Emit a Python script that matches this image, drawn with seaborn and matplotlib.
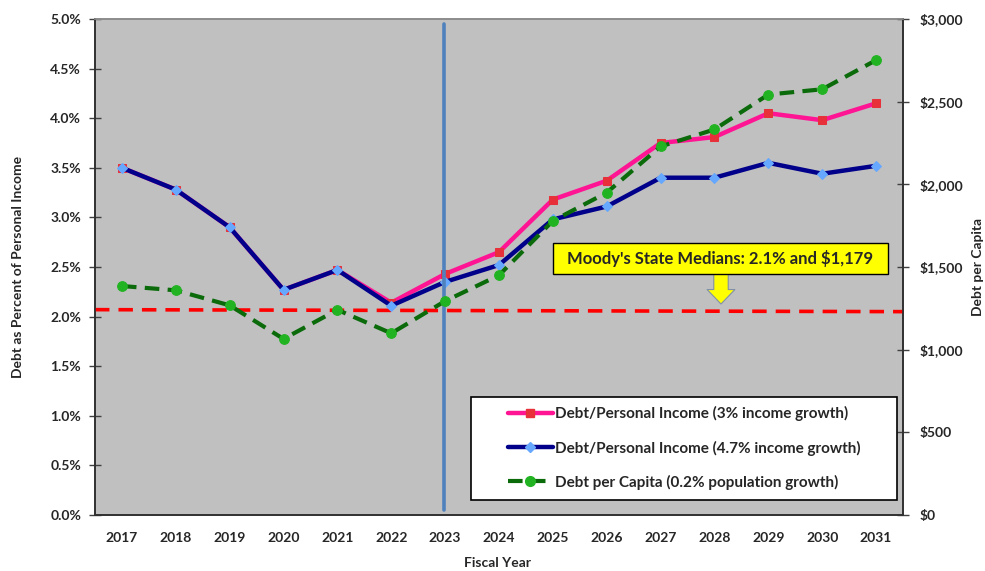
import numpy as np
import pandas as pd
import matplotlib
matplotlib.use('Agg')
import matplotlib.pyplot as plt
import matplotlib.font_manager as fm
from matplotlib.lines import Line2D
from matplotlib.patches import Rectangle
from matplotlib.ticker import FuncFormatter, MultipleLocator, FixedLocator
import seaborn as sns

# 数据
years = [str(y) for y in range(2017, 2032)]
pct_3_growth = [3.50, 3.28, 2.90, 2.27, 2.47, 2.14, 2.43, 2.65, 3.18, 3.37,
                3.75, 3.81, 4.05, 3.98, 4.15]
pct_47_growth = [3.50, 3.28, 2.90, 2.27, 2.47, 2.11, 2.35, 2.52, 2.98, 3.11,
                 3.40, 3.40, 3.55, 3.44, 3.52]
per_capita = [1385, 1359, 1268, 1065, 1241, 1099, 1294, 1450, 1779, 1950,
              2229, 2332, 2543, 2575, 2751]
median_pct = [2.07, 2.05]      # 左右两端
split_year = '2023'
note_text = "Moody's State Medians: 2.1% and $1,179"
legend_labels = ['Debt/Personal Income (3% income growth)',
                 'Debt/Personal Income (4.7% income growth)',
                 'Debt per Capita (0.2% population growth)']

df = pd.DataFrame({'year': years, 'x': np.arange(len(years)),
                   'p3': pct_3_growth, 'p47': pct_47_growth, 'cap': per_capita})


def _pick_bold_family():
    """找一个有粗体字重的字体"""
    for name in ['Lato', 'Open Sans', 'Noto Sans', 'Liberation Sans', 'DejaVu Sans']:
        for f in fm.fontManager.ttflist:
            w = f.weight if isinstance(f.weight, int) else 400
            if f.name == name and (w >= 700 or 'Bold' in str(f.fname)):
                return name
    return 'DejaVu Sans'


sns.set_style('white')
plt.rcParams['font.family'] = [_pick_bold_family(), 'DejaVu Sans']
plt.rcParams['font.weight'] = 'bold'
plt.rcParams['axes.labelweight'] = 'bold'

PINK, RED_SQ = '#FF1493', '#E8303A'
NAVY, LBLUE = '#00008B', '#66A8FF'
DGREEN, LGREEN = '#0B6B0B', '#22B322'

W, H = 985, 571
L, R, T, B = 95, 903, 19, 515        # 绘图区像素边界


def ax_x(px):
    return (px - L) / (R - L)


def ax_y(py):
    return (B - py) / (B - T)


fig = plt.figure(figsize=(W / 100, H / 100), dpi=100)
ax = fig.add_axes([L / W, 1 - B / H, (R - L) / W, (B - T) / H])
ax.set_facecolor('#C0C0C0')

sns.lineplot(data=df, x='x', y='p3', ax=ax, color=PINK, lw=3.2,
             marker='s', markersize=6, markerfacecolor=RED_SQ,
             markeredgecolor=RED_SQ, zorder=4)
sns.lineplot(data=df, x='x', y='p47', ax=ax, color=NAVY, lw=3.2,
             marker='D', markersize=5, markerfacecolor=LBLUE,
             markeredgecolor=LBLUE, zorder=5)

# 中位数虚线
ax.plot([-0.5, len(years) - 0.5], median_pct, color='#FF0000', lw=2.6,
        dashes=(4, 2.5), zorder=3)
# 分隔线
ax.axvline(years.index(split_year) - 0.03, ymin=0.01, ymax=0.99,
           color='#4F81BD', lw=2.6, zorder=6)

ax.set_xlim(-0.5, len(years) - 0.5)
ax.set_ylim(0, 5)
ax.yaxis.set_major_locator(MultipleLocator(0.5))
ax.yaxis.set_major_formatter(FuncFormatter(lambda v, p: f'{v:.1f}%'))
ax.set_xticks(df['x'])
ax.set_xticklabels(years)
ax.xaxis.set_minor_locator(FixedLocator(np.arange(-0.5, len(years), 1)))
ax.tick_params(axis='x', which='major', length=0, pad=12, labelsize=10)
ax.tick_params(axis='x', which='minor', direction='inout', length=8,
               width=1, color='#202020')
ax.tick_params(axis='y', direction='inout', length=8, width=1,
               color='#404040', labelsize=10, pad=6)
ax.set_xlabel('Fiscal Year', fontsize=10, va='center')
ax.set_ylabel('Debt as Percent of Personal Income', fontsize=10,
              va='center', ha='center')
ax.xaxis.set_label_coords(ax_x(498), ax_y(563))
ax.yaxis.set_label_coords(ax_x(18), 0.5)

ax2 = ax.twinx()
sns.lineplot(data=df, x='x', y='cap', ax=ax2, color=DGREEN, lw=3,
             linestyle=(0, (3.5, 2)), marker='o', markersize=7,
             markerfacecolor=LGREEN, markeredgecolor=LGREEN, zorder=5)
ax2.set_ylim(0, 3000)
ax2.yaxis.set_major_locator(MultipleLocator(500))
ax2.yaxis.set_major_formatter(FuncFormatter(lambda v, p: f'${v:,.0f}'))
ax2.tick_params(axis='y', direction='inout', length=8, width=1,
                color='#404040', labelsize=10, pad=8)
ax2.set_ylabel('Debt per Capita', fontsize=10, va='center', ha='center')
ax2.yaxis.set_label_coords(ax_x(978), 0.5)
ax2.set_xlim(-0.5, len(years) - 0.5)

for a in (ax, ax2):
    for side in ('left', 'right', 'bottom'):
        a.spines[side].set_color('#303030')
        a.spines[side].set_linewidth(1.2)
    a.spines['top'].set_color('#8C8C8C')
    a.spines['top'].set_linewidth(1.2)

# 黄色注释框与箭头
ax2.annotate('', xy=(ax_x(721), ax_y(304)), xytext=(ax_x(721), ax_y(274)),
             xycoords='axes fraction', textcoords='axes fraction',
             arrowprops=dict(arrowstyle='simple,head_width=1.25,head_length=0.65,tail_width=0.65',
                             mutation_scale=16, fc='#FFFF00', ec='#8090A8',
                             lw=0.8, shrinkA=0, shrinkB=0), zorder=7)
ax2.add_patch(Rectangle((ax_x(553), ax_y(274)), ax_x(888) - ax_x(553),
                        ax_y(243) - ax_y(274), transform=ax2.transAxes,
                        fc='#FFFF00', ec='black', lw=1, zorder=8))
ax2.text(ax_x(720), ax_y(258.5), note_text, transform=ax2.transAxes,
         ha='center', va='center', fontsize=12, zorder=9)

# 图例
ax2.add_patch(Rectangle((ax_x(471), ax_y(500)), ax_x(897) - ax_x(471),
                        ax_y(397) - ax_y(500), transform=ax2.transAxes,
                        fc='white', ec='black', lw=1.2, zorder=9))
handles = [
    Line2D([], [], color=PINK, lw=3.2, marker='s', markersize=6,
           markerfacecolor=RED_SQ, markeredgecolor=RED_SQ),
    Line2D([], [], color=NAVY, lw=3.2, marker='D', markersize=5,
           markerfacecolor=LBLUE, markeredgecolor=LBLUE),
    Line2D([], [], color=DGREEN, lw=3, linestyle=(0, (3.5, 2)), marker='o',
           markersize=7, markerfacecolor=LGREEN, markeredgecolor=LGREEN),
]
leg = ax2.legend(handles, legend_labels, loc='center',
                 bbox_to_anchor=(ax_x(684), ax_y(448)),
                 frameon=False, fontsize=11,
                 handlelength=3.0, handletextpad=0.1, labelspacing=1.25,
                 borderpad=0, borderaxespad=0)
leg.set_zorder(10)

fig.savefig('out.png', dpi=100)
plt.close(fig)
